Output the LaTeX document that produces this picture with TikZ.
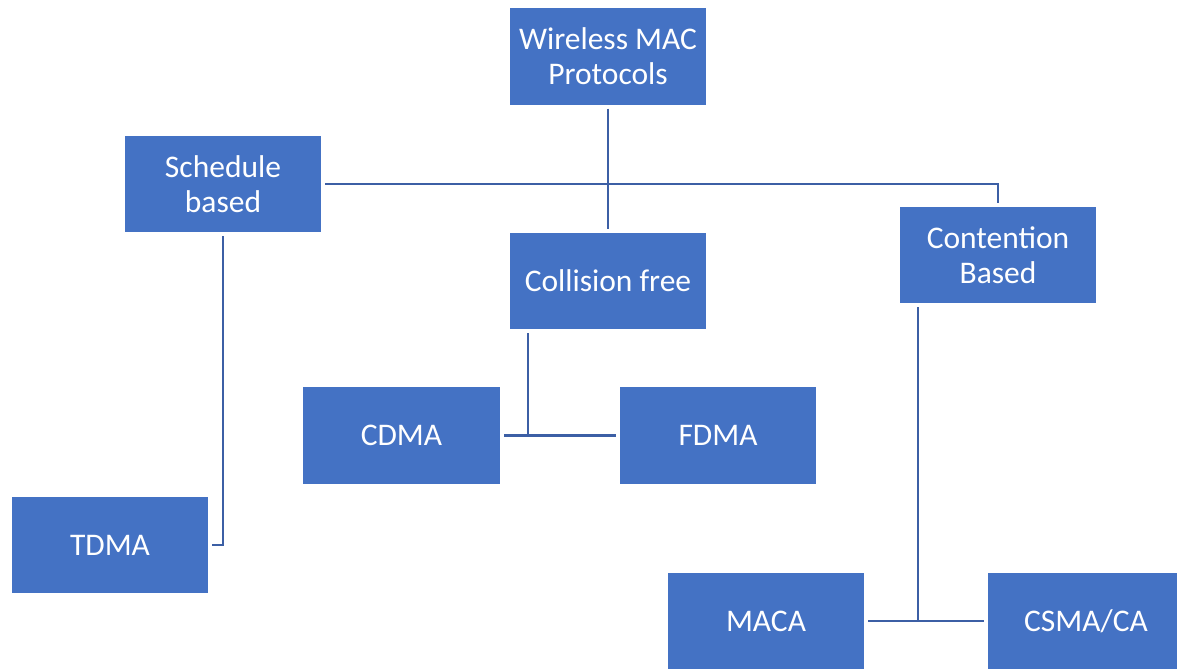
\documentclass[tikz,border=0pt]{standalone}
\usepackage{fontspec}
\setmainfont{Carlito}
\usepackage{tikz}
\usetikzlibrary{calc}
\definecolor{boxblue}{HTML}{4472C4}
\definecolor{lineblue}{HTML}{3C5FA5}

\begin{document}
\begin{tikzpicture}[x=0.025cm, y=-0.025cm,
    block/.style={fill=boxblue, text=white, minimum width=4.9cm, minimum height=2.4cm,
      inner sep=0pt, align=center, font=\fontsize{22.4}{25}\selectfont},
    link/.style={lineblue, line width=2.1pt, shorten <=2.8pt, shorten >=2.8pt}]

  \useasboundingbox (0, 0) rectangle (1177, 669);

  \node[block] (wmp) at (608, 56.5) {Wireless MAC\\Protocols};
  \node[block] (sched) at (223, 184) {Schedule\\based};
  \node[block] (cfree) at (608, 281) {Collision free};
  \node[block] (cont) at (998, 255) {Contention\\Based};
  \node[block] (cdma) at (401.5, 435.5) {CDMA};
  \node[block] (fdma) at (718, 435.5) {FDMA};
  \node[block] (tdma) at (110, 545) {TDMA};
  \node[block] (maca) at (766, 621) {MACA};
  \node[block] (csma) at (1086, 621) {CSMA/CA};

  \coordinate (cfree-out) at ($(cfree.south) + (-80, 0)$);
  \coordinate (cont-out) at ($(cont.south) + (-80, 0)$);

  \draw[link] (wmp) -- (cfree);
  \draw[link] (sched.east) -| (cont.north);
  \draw[link] (sched.south) |- (tdma.east);

  \draw[link] (cfree-out) |- (cdma.east);
  \draw[link, shorten <=0pt] (cfree-out |- fdma.west) -- (fdma.west);

  \draw[link] (cont-out) |- (maca.east);
  \draw[link, shorten <=0pt] (cont-out |- csma.west) -- (csma.west);

\end{tikzpicture}
\end{document}
